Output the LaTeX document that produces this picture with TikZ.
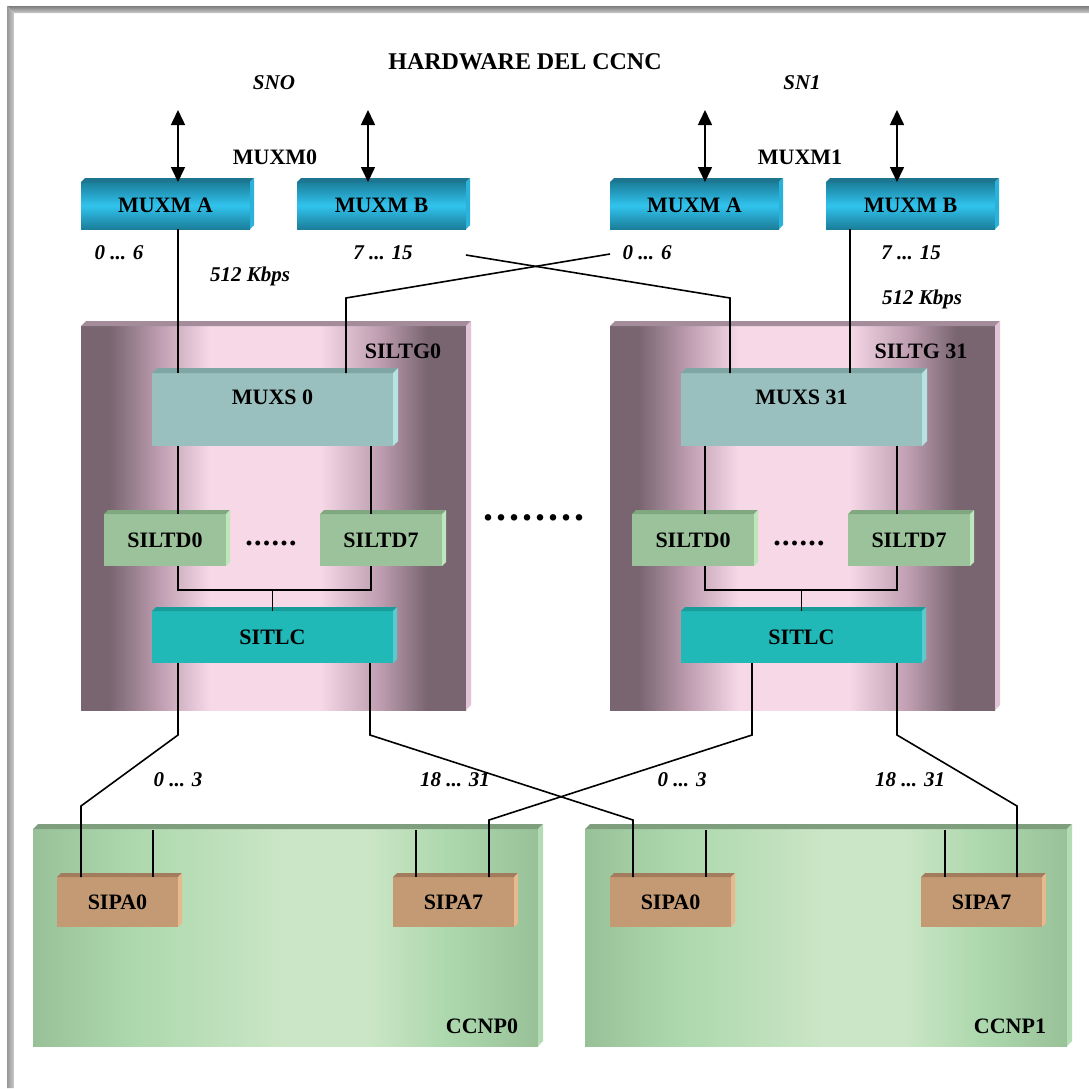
\documentclass[tikz,border=0pt]{standalone}
\usepackage{fontspec}
\setmainfont{Liberation Serif}
\usetikzlibrary{arrows.meta,calc}

\definecolor{muxdk}{HTML}{1B7E9A}
\definecolor{muxlt}{HTML}{31C3EE}
\definecolor{muxtop}{HTML}{1E7590}
\definecolor{muxside}{HTML}{2AB2DA}
\definecolor{muxsF}{HTML}{9ABFBF}
\definecolor{muxsTop}{HTML}{7FA5A5}
\definecolor{muxsSide}{HTML}{B5E3E3}
\definecolor{tdF}{HTML}{9CC29C}
\definecolor{tdTop}{HTML}{80A880}
\definecolor{tdSide}{HTML}{BDE6BD}
\definecolor{lcF}{HTML}{20B9B7}
\definecolor{lcTop}{HTML}{1A9C9A}
\definecolor{lcSide}{HTML}{5CC9CF}
\definecolor{paF}{HTML}{C49A74}
\definecolor{paTop}{HTML}{A27C5C}
\definecolor{paSide}{HTML}{E8B88E}
\definecolor{gDk}{HTML}{786570}
\definecolor{gLt}{HTML}{F6D8E7}
\definecolor{gMid}{HTML}{BC9CAE}
\definecolor{gTop}{HTML}{A48C9A}
\definecolor{gSide}{HTML}{E2C2D6}
\definecolor{cDk}{HTML}{99C199}
\definecolor{cMid}{HTML}{ADD8AD}
\definecolor{cLt}{HTML}{CBE6C6}
\definecolor{cTop}{HTML}{7E9E7E}
\definecolor{cSide}{HTML}{B4DCB4}
\definecolor{frDk}{HTML}{7D7D7D}
\definecolor{frLt}{HTML}{CACACA}

\pgfdeclarehorizontalshading{siltgsh}{100bp}{color(0bp)=(gDk); color(25bp)=(gDk); color(28.7bp)=(gDk); color(35bp)=(gMid); color(41.7bp)=(gLt); color(56bp)=(gLt); color(64bp)=(gMid); color(70bp)=(gDk); color(75bp)=(gDk); color(100bp)=(gDk)}
\pgfdeclarehorizontalshading{ccnpsh}{100bp}{color(0bp)=(cDk); color(25bp)=(cDk); color(35bp)=(cMid); color(50bp)=(cLt); color(58bp)=(cLt); color(66bp)=(cMid); color(75bp)=(cDk); color(100bp)=(cDk)}

\newcommand\bev[4]{%
  \fill[#3] (#1.north west) -- ++(#2,-#2) -- ([shift={(#2,-#2)}]#1.north east) -- (#1.north east) -- cycle;
  \fill[#4] (#1.north east) -- ++(#2,-#2) -- ([shift={(#2,-#2)}]#1.south east) -- (#1.south east) -- cycle;}

\newcommand\bigdots{.\kern2.9pt.\kern2.9pt.\kern2.9pt.\kern2.9pt.\kern2.9pt.\kern2.9pt.\kern2.9pt.}
\newcommand\smalldots{.\kern1.3pt.\kern1.3pt.\kern1.3pt.\kern1.3pt.\kern1.3pt.}

\tikzset{
  lbl/.style={font=\fontsize{22}{22}\selectfont\bfseries, inner sep=0},
  ilbl/.style={font=\fontsize{21}{21}\selectfont\bfseries\itshape, inner sep=0},
  wire/.style={line width=1.6pt, black},
  dbl/.style={wire, {Triangle[width=14pt,length=15pt]}-{Triangle[width=14pt,length=15pt]}},
  box/.style={inner sep=0, outer sep=0, anchor=north west, font=\fontsize{22}{22}\selectfont\bfseries},
  muxm/.style={box, minimum width=169pt, minimum height=47pt, top color=muxdk, bottom color=muxdk, middle color=muxlt},
  siltg/.style={box, minimum width=385pt, minimum height=384pt, shading=siltgsh, shade},
  muxs/.style={box, minimum width=241pt, minimum height=73pt, fill=muxsF},
  siltd/.style={box, minimum width=122pt, minimum height=52pt, fill=tdF},
  sitlc/.style={box, minimum width=241pt, minimum height=52pt, fill=lcF},
  ccnp/.style={box, minimum height=217pt, shading=ccnpsh, shade},
  sipa/.style={box, minimum width=121pt, minimum height=50pt, fill=paF},
}

\begin{document}
\begin{tikzpicture}[x=1pt,y=-1pt]
\useasboundingbox (0,0) rectangle (1089,1088);
\fill[white] (0,0) rectangle (1089,1088);
% frame
\shade[top color=frDk, bottom color=frLt] (7,6) -- (1089,6) -- (1089,13) -- (14,13) -- cycle;
\shade[left color=frDk!80!white, right color=frLt] (7,6) -- (14,13) -- (14,1088) -- (7,1088) -- cycle;

% title and top labels
\node[lbl, font=\fontsize{24}{24}\selectfont\bfseries] (title) at (525,62) {HARDWARE DEL CCNC};
\node[ilbl] (sn0) at (274,83) {SNO};
\node[ilbl] (sn1) at (802,83) {SN1};
\node[lbl] (m0lbl) at (275,157) {MUXM0};
\node[lbl] (m1lbl) at (800,157) {MUXM1};

% MUXM boxes
\node[muxm] (muxmA0) at (81,182) {MUXM A};
\node[muxm] (muxmB0) at (297,182) {MUXM B};
\node[muxm] (muxmA1) at (610,182) {MUXM A};
\node[muxm] (muxmB1) at (826,182) {MUXM B};
\bev{muxmA0}{4}{muxtop}{muxside}
\bev{muxmB0}{4}{muxtop}{muxside}
\bev{muxmA1}{4}{muxtop}{muxside}
\bev{muxmB1}{4}{muxtop}{muxside}

% SILTG boxes
\node[siltg] (siltg0) at (81,326) {};
\node[siltg] (siltg1) at (610,326) {};
\bev{siltg0}{5}{gTop}{gSide}
\bev{siltg1}{5}{gTop}{gSide}
\node[lbl] (siltg0t) at (403,351) {SILTG0};
\node[lbl] (siltg1t) at (921,351) {SILTG 31};

% MUXS
\node[muxs] (muxs0) at (152,373) {};
\node[muxs] (muxs1) at (681,373) {};
\bev{muxs0}{5}{muxsTop}{muxsSide}
\bev{muxs1}{5}{muxsTop}{muxsSide}
\node[lbl] (muxs0t) at ($(muxs0.north)+(0,24)$) {MUXS 0};
\node[lbl] (muxs1t) at ($(muxs1.north)+(0,24)$) {MUXS 31};

% SILTD
\node[siltd] (siltd00) at (104,514) {SILTD0};
\node[siltd] (siltd07) at (320,514) {SILTD7};
\node[siltd] (siltd10) at (632,514) {SILTD0};
\node[siltd] (siltd17) at (848,514) {SILTD7};
\bev{siltd00}{4}{tdTop}{tdSide}
\bev{siltd07}{4}{tdTop}{tdSide}
\bev{siltd10}{4}{tdTop}{tdSide}
\bev{siltd17}{4}{tdTop}{tdSide}
\node[inner sep=0, anchor=base, font=\fontsize{30}{30}\selectfont\bfseries] (dots0) at (271,545) {\smalldots};
\node[inner sep=0, anchor=base, font=\fontsize{30}{30}\selectfont\bfseries] (dots1) at (799,545) {\smalldots};
\node[inner sep=0, anchor=base, font=\fontsize{40}{40}\selectfont\bfseries] (dotsm) at (534,520) {\bigdots};

% SITLC
\node[sitlc] (sitlc0) at (152,611) {SITLC};
\node[sitlc] (sitlc1) at (681,611) {SITLC};
\bev{sitlc0}{4}{lcTop}{lcSide}
\bev{sitlc1}{4}{lcTop}{lcSide}

% CCNP
\node[ccnp, minimum width=505pt] (ccnp0) at (33,829) {};
\node[ccnp, minimum width=482pt] (ccnp1) at (585,829) {};
\bev{ccnp0}{5}{cTop}{cSide}
\bev{ccnp1}{5}{cTop}{cSide}
\node[lbl] (ccnp0t) at (482,1026) {CCNP0};
\node[lbl] (ccnp1t) at (1010,1026) {CCNP1};

% SIPA
\node[sipa] (sipa00) at (57,877) {SIPA0};
\node[sipa] (sipa07) at (393,877) {SIPA7};
\node[sipa] (sipa10) at (610,877) {SIPA0};
\node[sipa] (sipa17) at (921,877) {SIPA7};
\bev{sipa00}{4}{paTop}{paSide}
\bev{sipa07}{4}{paTop}{paSide}
\bev{sipa10}{4}{paTop}{paSide}
\bev{sipa17}{4}{paTop}{paSide}

% italic labels
\node[ilbl] (r06a) at (119,253) {0 ... 6};
\node[ilbl] (r715a) at (383,253) {7 ... 15};
\node[ilbl] (r06b) at (647,253) {0 ... 6};
\node[ilbl] (r715b) at (911,253) {7 ... 15};
\node[ilbl] (kb0) at (250,276) {512 Kbps};
\node[ilbl] (kb1) at (922,299) {512 Kbps};
\node[ilbl] (r03a) at (178,780) {0 ... 3};
\node[ilbl] (r1831a) at (455,780) {18 ... 31};
\node[ilbl] (r03b) at (682,780) {0 ... 3};
\node[ilbl] (r1831b) at (910,780) {18 ... 31};

% x positions
\coordinate (xa) at (178,0);
\coordinate (xb) at (371,0);
\coordinate (xc) at (705,0);
\coordinate (xd) at (897,0);

% top double arrows
\coordinate (t1) at (178,110);
\coordinate (t2) at (368,110);
\coordinate (t3) at (705,110);
\coordinate (t4) at (897,110);
\draw[dbl] (t1) -- (t1 |- muxmA0.north);
\draw[dbl] (t2) -- (t2 |- muxmB0.north);
\draw[dbl] (t3) -- (t3 |- muxmA1.north);
\draw[dbl] (t4) -- (t4 |- muxmB1.north);

% MUXM to MUXS
\draw[wire] (muxmA0.south -| xa) -- (muxs0.north -| xa);
\coordinate (xm) at (850,0);
\draw[wire] (muxmB1.south -| xm) -- (muxs1.north -| xm);
\coordinate (c1s) at (466,255);
\coordinate (c1b) at (730,298);
\draw[wire] (c1s) -- (c1b) -- (muxs1.north -| c1b);
\coordinate (c2s) at (610,254);
\coordinate (c2b) at (346,298);
\draw[wire] (c2s) -- (c2b) -- (muxs0.north -| c2b);

% MUXS to SILTD
\draw[wire] (muxs0.south -| xa) -- (siltd00.north -| xa);
\draw[wire] (muxs0.south -| xb) -- (siltd07.north -| xb);
\draw[wire] (muxs1.south -| xc) -- (siltd10.north -| xc);
\draw[wire] (muxs1.south -| xd) -- (siltd17.north -| xd);

% SILTD to SITLC
\coordinate (j0) at (0,590);
\draw[wire] (siltd00.south -| xa) -- (j0 -| xa) -- (j0 -| xb) -- (siltd07.south -| xb);
\draw[wire] (sitlc0.north) -- (sitlc0.north |- j0);
\draw[wire] (siltd10.south -| xc) -- (j0 -| xc) -- (j0 -| xd) -- (siltd17.south -| xd);
\draw[wire] (sitlc1.north) -- (sitlc1.north |- j0);

% SITLC to SIPA
\coordinate (a1) at (178,735); \coordinate (a2) at (81,806);
\draw[wire] (sitlc0.south -| a1) -- (a1) -- (a2) -- (sipa00.north -| a2);
\coordinate (b1) at (370,735); \coordinate (b2) at (633,820);
\draw[wire] (sitlc0.south -| b1) -- (b1) -- (b2) -- (sipa10.north -| b2);
\coordinate (d1) at (752,735); \coordinate (d2) at (489,820);
\draw[wire] (sitlc1.south -| d1) -- (d1) -- (d2) -- (sipa07.north -| d2);
\coordinate (e1) at (897,735); \coordinate (e2) at (1017,806);
\draw[wire] (sitlc1.south -| e1) -- (e1) -- (e2) -- (sipa17.north -| e2);

% stubs
\coordinate (s1) at (153,830);
\coordinate (s2) at (416,830);
\coordinate (s3) at (706,830);
\coordinate (s4) at (945,830);
\draw[wire] (s1) -- (sipa00.north -| s1);
\draw[wire] (s2) -- (sipa07.north -| s2);
\draw[wire] (s3) -- (sipa10.north -| s3);
\draw[wire] (s4) -- (sipa17.north -| s4);
\end{tikzpicture}
\end{document}
